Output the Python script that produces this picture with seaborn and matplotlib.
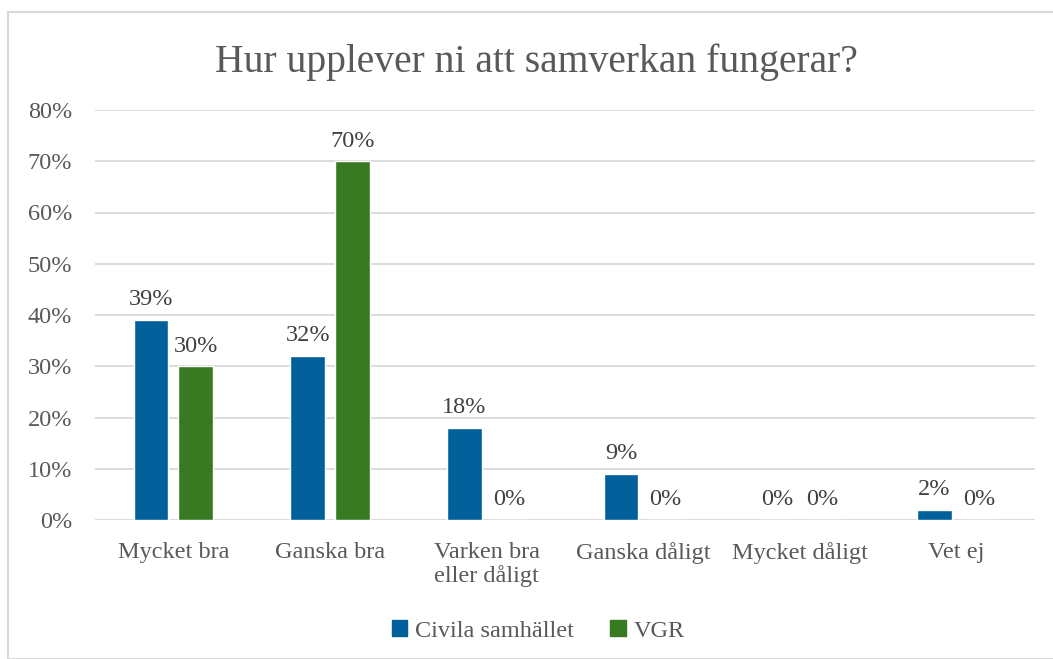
import matplotlib
matplotlib.use("Agg")
import matplotlib.pyplot as plt
import seaborn as sns
import pandas as pd
from matplotlib.patches import Rectangle
from matplotlib.ticker import FuncFormatter, MultipleLocator

categories = ["Mycket bra", "Ganska bra", "Varken bra\neller dåligt",
              "Ganska dåligt", "Mycket dåligt", "Vet ej"]
civila = [39, 32, 18, 9, 0, 2]
vgr = [30, 70, 0, 0, 0, 0]
series_names = ["Civila samhället", "VGR"]
colors = ["#01609A", "#377A22"]

df = pd.DataFrame({
    "Kategori": categories * 2,
    "Serie": [series_names[0]] * len(categories) + [series_names[1]] * len(categories),
    "Värde": civila + vgr,
})

sns.set_theme(style="white")
plt.rcParams["font.family"] = ["Liberation Serif", "DejaVu Serif"]
text_color = "#595959"
fs = 17.5

fig = plt.figure(figsize=(10.53, 6.59), dpi=100)
fig.patch.set_facecolor("white")
ax = fig.add_axes([95 / 1053, 1 - 520 / 659, 940 / 1053, 410 / 659])

sns.barplot(data=df, x="Kategori", y="Värde", hue="Serie", palette=colors,
            width=0.57, gap=0.22, ax=ax, legend=False, saturation=1)

ax.set_ylim(0, 80)
ax.set_xlim(-0.5, len(categories) - 0.5)
ax.yaxis.set_major_locator(MultipleLocator(10))
ax.yaxis.set_major_formatter(FuncFormatter(lambda v, p: f"{int(v)}%"))
ax.grid(axis="y", color="#D9D9D9", linewidth=1.3)
ax.set_axisbelow(True)
for s in ax.spines.values():
    s.set_visible(False)
ax.set_xlabel("")
ax.set_ylabel("")
ax.tick_params(axis="y", length=0, pad=16.5, labelsize=fs, labelcolor=text_color)
ax.tick_params(axis="x", length=0, pad=16, labelsize=fs, labelcolor=text_color)
for lbl in ax.get_xticklabels():
    lbl.set_linespacing(1.12)

for cont in ax.containers:
    ax.bar_label(cont, fmt="%d%%", padding=7, fontsize=fs, color="#404040")

fig.text(0.509, 1 - 62 / 659, "Hur upplever ni att samverkan fungerar?",
         ha="center", va="center", fontsize=28.5, color=text_color)

# legend
handles = [plt.Rectangle((0, 0), 1, 1, color=c) for c in colors]
fig.legend(handles, series_names, loc="center", bbox_to_anchor=(0.511, 1 - 631 / 659),
           ncol=2, frameon=False, fontsize=fs, handlelength=0.65, handleheight=0.65,
           handletextpad=0.3, columnspacing=1.5, labelcolor=text_color)

# chart border
fig.add_artist(Rectangle((8 / 1053, 0), 1.2, 1 - 12 / 659, transform=fig.transFigure,
                         fill=False, edgecolor="#D9D9D9", linewidth=1.5))

fig.savefig("out.png", dpi=100)
